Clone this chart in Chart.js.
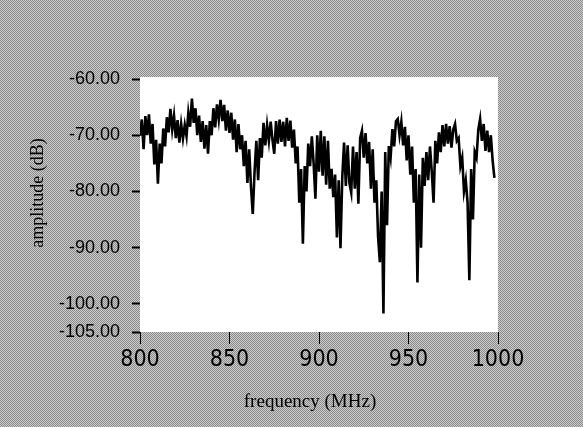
<!DOCTYPE html>
<html>
<head>
<meta charset="utf-8">
<script src="https://cdn.jsdelivr.net/npm/chart.js@4/dist/chart.umd.min.js"></script>
<style>
    html, body { margin: 0; padding: 0; background: #a9a9a9; }
    #wrap { width: 583px; height: 427px; position: relative; }
</style>
</head>
<body>
<div id="wrap"><canvas id="spectrum"></canvas></div>
<script>
// frequency sweep, one sample per MHz
const frequency = [
    800, 801, 802, 803, 804, 805, 806, 807, 808, 809,
    810, 811, 812, 813, 814, 815, 816, 817, 818, 819,
    820, 821, 822, 823, 824, 825, 826, 827, 828, 829,
    830, 831, 832, 833, 834, 835, 836, 837, 838, 839,
    840, 841, 842, 843, 844, 845, 846, 847, 848, 849,
    850, 851, 852, 853, 854, 855, 856, 857, 858, 859,
    860, 861, 862, 863, 864, 865, 866, 867, 868, 869,
    870, 871, 872, 873, 874, 875, 876, 877, 878, 879,
    880, 881, 882, 883, 884, 885, 886, 887, 888, 889,
    890, 891, 892, 893, 894, 895, 896, 897, 898, 899,
    900, 901, 902, 903, 904, 905, 906, 907, 908, 909,
    910, 911, 912, 913, 914, 915, 916, 917, 918, 919,
    920, 921, 922, 923, 924, 925, 926, 927, 928, 929,
    930, 931, 932, 933, 934, 935, 936, 937, 938, 939,
    940, 941, 942, 943, 944, 945, 946, 947, 948, 949,
    950, 951, 952, 953, 954, 955, 956, 957, 958, 959,
    960, 961, 962, 963, 964, 965, 966, 967, 968, 969,
    970, 971, 972, 973, 974, 975, 976, 977, 978, 979,
    980, 981, 982, 983, 984, 985, 986, 987, 988, 989,
    990, 991, 992, 993, 994, 995, 996, 997, 998
];

// amplitude in dB
const amplitude = [
    -70.1, -67.2, -72.5, -66.6, -70.0, -66.3, -71.5, -68.0, -75.2, -70.8,
    -78.6, -71.5, -75.0, -68.8, -72.0, -66.8, -69.5, -65.3, -69.0, -66.5,
    -70.5, -67.3, -71.3, -68.0, -70.6, -68.2, -70.2, -66.0, -68.5, -63.5,
    -67.8, -65.2, -70.0, -66.5, -71.2, -67.5, -72.4, -68.2, -73.3, -67.5,
    -70.0, -65.2, -68.6, -64.5, -67.2, -63.7, -67.5, -64.6, -69.2, -65.6,
    -69.6, -66.0, -70.8, -67.2, -73.0, -68.0, -72.5, -70.0, -75.5, -71.0,
    -78.5, -72.5, -79.2, -84.0, -76.5, -71.0, -78.0, -70.5, -74.0, -67.8,
    -71.8, -68.2, -71.0, -67.6, -70.8, -73.3, -67.5, -71.5, -67.2, -71.2,
    -67.6, -72.0, -66.9, -71.0, -67.4, -72.2, -69.0, -75.0, -72.0, -82.0,
    -76.0, -89.3, -75.5, -80.0, -71.5, -75.5, -70.2, -75.0, -81.3, -70.0,
    -76.5, -69.2, -77.2, -70.2, -78.8, -71.0, -79.5, -76.0, -81.0, -77.0,
    -88.2, -78.0, -90.1, -77.5, -71.3, -79.0, -71.8, -78.5, -80.2, -72.0,
    -79.5, -73.0, -82.2, -70.5, -69.2, -74.0, -69.6, -75.0, -71.2, -79.5,
    -72.5, -82.0, -78.0, -88.0, -92.6, -80.0, -101.7, -73.0, -86.0, -71.9,
    -74.0, -68.9, -72.0, -67.5, -67.1, -70.0, -67.6, -71.8, -68.5, -74.5,
    -70.0, -77.0, -72.0, -82.0, -76.0, -96.2, -77.0, -90.0, -74.0, -79.0,
    -73.0, -78.0, -72.0, -76.5, -82.0, -71.0, -75.0, -69.5, -73.0, -68.2,
    -72.0, -68.0, -71.5, -68.4, -72.2, -69.0, -68.0, -71.0, -70.5, -75.5,
    -74.0, -80.0, -78.0, -82.0, -95.8, -76.0, -85.0, -73.0, -74.0, -69.0,
    -67.1, -71.0, -68.0, -72.8, -69.2, -73.0, -70.0, -74.5, -77.6
];

const yTicks = [-105, -100, -90, -80, -70, -60];
const xTicks = [800, 850, 900, 950, 1000];
const xTitle = 'frequency (MHz)';
const yTitle = 'amplitude (dB)';

// halftone-looking grey backdrop plus the white plot field
const backdrop = {
    id: 'backdrop',
    beforeDraw(chart) {
        const ctx = chart.ctx;
        const tile = document.createElement('canvas');
        tile.width = 2;
        tile.height = 2;
        const t = tile.getContext('2d');
        t.fillStyle = '#cdcdcd';
        t.fillRect(0, 0, 2, 2);
        t.fillStyle = '#8a8a8a';
        t.fillRect(0, 0, 1, 1);
        t.fillRect(1, 1, 1, 1);
        ctx.save();
        ctx.fillStyle = ctx.createPattern(tile, 'repeat');
        ctx.fillRect(0, 0, chart.width, chart.height);
        const a = chart.chartArea;
        ctx.fillStyle = '#ffffff';
        ctx.fillRect(a.left, a.top - 2, a.right - a.left, a.bottom - a.top + 2);
        ctx.restore();
    }
};

// axis captions placed where the original has them
const captions = {
    id: 'captions',
    afterDraw(chart) {
        const ctx = chart.ctx;
        ctx.save();
        ctx.fillStyle = '#000000';
        ctx.textAlign = 'center';
        ctx.textBaseline = 'middle';
        ctx.font = '19px "Liberation Serif", "DejaVu Serif", serif';
        ctx.fillText(xTitle, 310, 402);
        ctx.translate(38, 193);
        ctx.rotate(-Math.PI / 2);
        ctx.font = '18px "Liberation Serif", "DejaVu Serif", serif';
        ctx.fillText(yTitle, 0, 0);
        ctx.restore();
    }
};

new Chart(document.getElementById('spectrum'), {
    type: 'line',
    data: {
        datasets: [{
            data: frequency.map((f, i) => ({ x: f, y: amplitude[i] })),
            borderColor: '#000000',
            borderWidth: 2.6,
            pointRadius: 0,
            tension: 0,
            fill: false
        }]
    },
    options: {
        responsive: true,
        maintainAspectRatio: false,
        animation: false,
        events: [],
        layout: { padding: { top: 79, right: 85, left: 0, bottom: 0 } },
        plugins: {
            legend: { display: false },
            tooltip: { enabled: false }
        },
        scales: {
            x: {
                type: 'linear',
                min: 800,
                max: 1000,
                afterFit: function (scale) { scale.height = 95; },
                afterBuildTicks: function (scale) {
                    scale.ticks = xTicks.map(v => ({ value: v }));
                },
                border: { display: false },
                grid: {
                    drawOnChartArea: false,
                    tickLength: 12,
                    tickColor: '#000000',
                    tickWidth: 1
                },
                ticks: {
                    color: '#000000',
                    padding: 2,
                    maxRotation: 0,
                    font: { family: '"DejaVu Sans Condensed", "Liberation Sans Narrow", sans-serif', size: 23 },
                    callback: function (value) { return String(value); }
                }
            },
            y: {
                min: -105,
                max: -60,
                afterFit: function (scale) { scale.width = 140; },
                afterBuildTicks: function (scale) {
                    scale.ticks = yTicks.map(v => ({ value: v }));
                },
                border: { display: false },
                grid: {
                    drawOnChartArea: false,
                    tickLength: 8,
                    tickColor: '#000000',
                    tickWidth: 2
                },
                ticks: {
                    color: '#000000',
                    padding: 12,
                    font: { family: '"Liberation Sans", Arial, sans-serif', size: 18 },
                    callback: function (value) { return value.toFixed(2); }
                }
            }
        }
    },
    plugins: [backdrop, captions]
});
</script>
</body>
</html>
